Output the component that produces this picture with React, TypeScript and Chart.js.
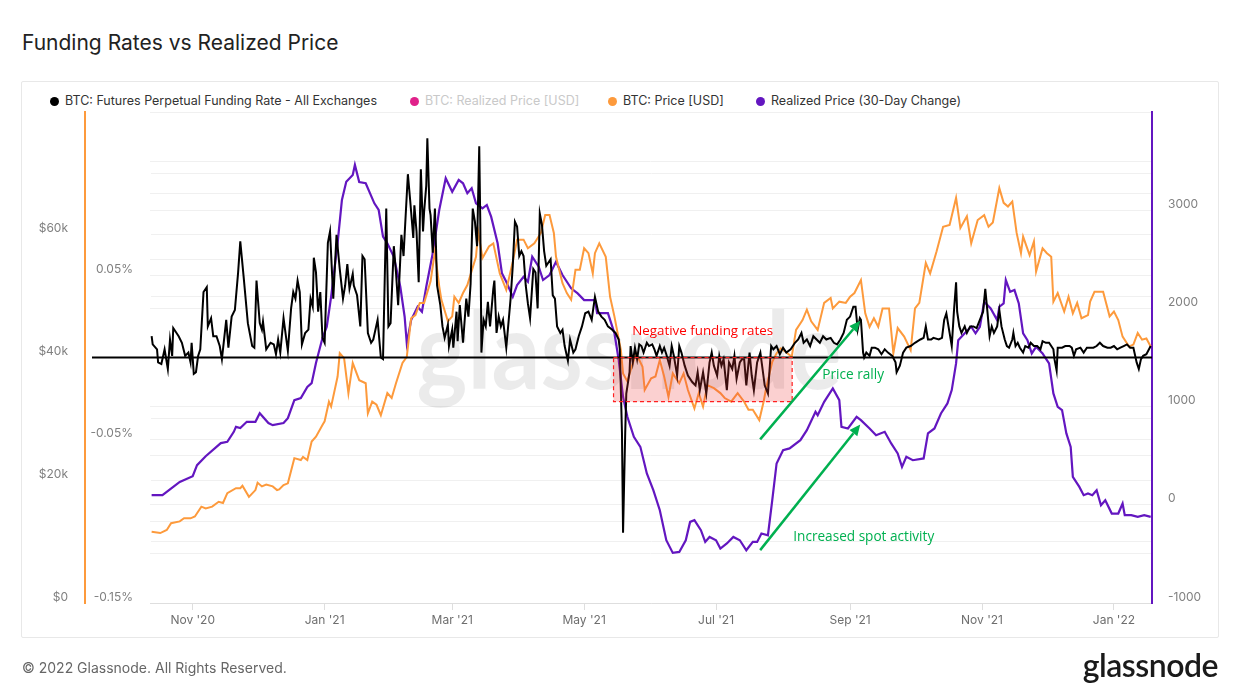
import React, { useEffect, useRef } from 'react';
import { Chart, registerables } from 'chart.js';

Chart.register(...registerables);

// x values are days counted from 2020-11-01 (day 0)
const monthTickDays = [0, 61, 120, 181, 242, 304, 365, 426];
const monthTickLabels = ["Nov '20", "Jan '21", "Mar '21", "May '21", "Jul '21", "Sep '21", "Nov '21", "Jan '22"];

// BTC: Futures Perpetual Funding Rate - All Exchanges  [day, rate %]
const fundingRate: [number, number][] = [
  [-19, 0.013], [-18.5, 0.008], [-16.5, 0.005], [-16, -0.003], [-14.5, -0.004], [-13, 0.005], [-11.5, -0.007], [-10.5, 0.011],
  [-9.5, 0.001], [-9, 0.018], [-6.5, 0.013], [-5, 0.009], [-3.5, 0.001], [-2, 0.003], [-1, -0.003], [-0.5, 0.009],
  [0.5, -0.010], [1.5, -0.009], [2.5, 0.001], [3.5, 0.005], [5, 0.040], [6.5, 0.043], [7, 0.019], [8.5, 0.024],
  [9.5, 0.013], [11, 0.013], [12.5, 0.007], [13.5, -0.001], [15.5, 0.023], [16.5, 0.006], [18, 0.025], [19.5, 0.029],
  [21, 0.052], [22, 0.071], [23.5, 0.050], [25.5, 0.021], [27.5, 0.007], [28.5, 0.006], [29.5, 0.047], [31, 0.021],
  [32, 0.017], [32.5, 0.022], [34, 0.005], [36, 0.009], [37.5, 0.008], [38.5, 0.002], [39.5, 0.011], [40.5, 0.003],
  [42, 0.024], [44, 0.004], [45.5, 0.030], [46.5, 0.040], [47.5, 0.036], [48.5, 0.047], [49.5, 0.040], [50.5, 0.008],
  [52, 0.015], [53.5, 0.017], [54.5, 0.036], [55.5, 0.031], [56, 0.061], [57, 0.052], [58, 0.028], [59, 0.040],
  [60, 0.012], [61, 0.009], [62.5, 0.070], [63.5, 0.077], [65, 0.036], [66.5, 0.075], [68, 0.054], [69.5, 0.036],
  [70.5, 0.044], [71.5, 0.057], [72.5, 0.042], [74, 0.051], [74.5, 0.044], [76, 0.038], [77.5, 0.019], [78.5, 0.062],
  [79.5, 0.060], [81, 0.015], [82.5, 0.009], [83.5, 0.011], [85.5, 0.023], [87, 0.000], [88, -0.001], [89.5, 0.091],
  [90.5, 0.019], [91.5, 0.021], [93, 0.068], [94, 0.052], [95, 0.032], [96.5, 0.075], [97.5, 0.062], [98, 0.075],
  [99.5, 0.112], [100.5, 0.097], [102, 0.073], [102.5, 0.093], [103.5, 0.077], [104.5, 0.046], [105.5, 0.115], [106.5, 0.077],
  [107, 0.089], [108, 0.105], [108.5, 0.134], [109.5, 0.091], [110, 0.087], [111, 0.064], [112, 0.091], [113, 0.044],
  [114.5, 0.032], [115.5, 0.019], [116.5, 0.012], [118, 0.020], [118.5, 0.007], [120, 0.017], [120.5, 0.006], [122, 0.028],
  [122.5, 0.010], [123.5, 0.032], [125, 0.009], [126.5, 0.036], [127.5, 0.025], [128.5, 0.045], [129.5, 0.091], [130.5, 0.083],
  [131.5, 0.068], [132.5, 0.129], [133, 0.081], [133.5, 0.003], [134.5, 0.023], [135.5, 0.019], [136.5, 0.034], [137.5, 0.019],
  [139, 0.042], [139.5, 0.047], [140.5, 0.015], [141.5, 0.025], [142.5, 0.019], [143.5, 0.023], [145, 0.006], [147, 0.036],
  [148, 0.056], [149, 0.083], [150, 0.080], [151, 0.062], [152, 0.065], [153, 0.062], [154, 0.044], [155, 0.033],
  [156, 0.024], [157.5, 0.054], [158.5, 0.052], [159.5, 0.030], [160.5, 0.088], [161.5, 0.081], [162.5, 0.065], [163.5, 0.056],
  [164.5, 0.058], [165.5, 0.060], [166.5, 0.038], [167.5, 0.036], [168.5, 0.019], [170, 0.015], [171, 0.017], [172, 0.007],
  [173.5, -0.002], [174.5, 0.011], [176, 0.003], [177, 0.005], [178.5, 0.013], [180, 0.019], [181.5, 0.027], [183, 0.028],
  [184.5, 0.023], [186, 0.037], [187.5, 0.028], [189, 0.025], [190.5, 0.023], [192, 0.019], [194, 0.017], [195.5, 0.015],
  [197, 0.011], [197.5, 0.005], [198.5, -0.046], [199, -0.107], [200, -0.046], [200.5, -0.022], [202, -0.009], [202.5, 0.007],
  [203.5, -0.003], [204.5, 0.006], [205.5, -0.001], [206.5, 0.008], [207.5, 0.007], [208.5, 0.003], [210, 0.009], [211, 0.007],
  [212.5, 0.008], [213.5, 0.005], [214.5, 0.001], [216, 0.007], [217, 0.003], [218, 0.006], [219, 0.002], [220.5, -0.005],
  [221.5, 0.007], [222.5, 0.001], [224, -0.011], [225, 0.007], [226, 0.003], [227.5, -0.005], [229, -0.011], [231, -0.015],
  [232.5, -0.017], [233.5, -0.009], [234.5, -0.020], [236, -0.009], [237.5, -0.022], [239, -0.003], [240, 0.003], [241, -0.005],
  [242.5, -0.011], [243.5, 0.001], [244.5, -0.005], [245.5, -0.001], [247, -0.020], [248, -0.003], [249.5, -0.007], [250.5, 0.001],
  [251.5, -0.013], [253, -0.003], [254, -0.001], [255, -0.001], [256, -0.017], [257.5, 0.003], [258.5, -0.011], [259.5, -0.020],
  [261, -0.003], [262.5, 0.003], [263.5, -0.007], [264.5, -0.017], [266, -0.022], [267.5, 0.007], [268.5, 0.005], [270, 0.007],
  [271.5, 0.002], [273, 0.006], [274.5, 0.003], [276.5, 0.005], [278.5, 0.009], [280, 0.011], [281.5, 0.015], [282.5, 0.009],
  [284, 0.011], [285.5, 0.007], [287, 0.013], [288.5, 0.011], [290, 0.009], [291.5, 0.013], [293, 0.011], [295, 0.012],
  [296.5, 0.009], [298, 0.008], [299.5, 0.011], [301, 0.015], [302.5, 0.023], [304, 0.025], [305.5, 0.031], [306.5, 0.031],
  [307.5, 0.017], [308.5, 0.024], [309, 0.023], [310, 0.003], [310.5, 0.000], [311.5, 0.003], [313, 0.001], [314, 0.006],
  [315.5, 0.006], [317, 0.005], [318.5, 0.002], [320, 0.005], [321.5, 0.003], [323.5, 0.001], [325, -0.003], [325.5, -0.009],
  [327, -0.005], [328.5, 0.003], [330, 0.006], [332, 0.007], [334, 0.009], [336.5, 0.011], [338, 0.012], [339, 0.019],
  [340, 0.011], [341.5, 0.011], [342.5, 0.012], [345, 0.011], [346.5, 0.012], [347.5, 0.023], [348.5, 0.027], [350, 0.015],
  [351, 0.007], [352, 0.028], [353, 0.046], [353.5, 0.028], [354.5, 0.019], [355.5, 0.015], [357, 0.019], [358, 0.015],
  [359.5, 0.019], [361, 0.019], [362.5, 0.018], [364, 0.023], [365.5, 0.028], [366.5, 0.042], [367.5, 0.028], [368.5, 0.013],
  [369.5, 0.019], [370.5, 0.015], [372, 0.019], [373, 0.029], [374, 0.019], [375.5, 0.011], [376.5, 0.007], [377.5, 0.006],
  [379, 0.011], [379.5, 0.015], [380.5, 0.007], [381.5, 0.009], [382.5, 0.006], [384, 0.003], [385, 0.007], [386.5, 0.006],
  [387.5, 0.009], [389, 0.007], [390.5, 0.007], [392, 0.005], [393, 0.010], [394.5, 0.009], [396, 0.009], [398, 0.005],
  [398.5, -0.001], [399.5, -0.008], [400, 0.006], [402, 0.006], [403.5, 0.007], [405.5, 0.007], [406.5, 0.006], [407.5, 0.001],
  [408.5, 0.005], [410.5, 0.006], [412, 0.003], [413.5, 0.006], [415, 0.006], [416.5, 0.006], [418, 0.007], [419.5, 0.009],
  [421, 0.007], [423, 0.006], [424.5, 0.006], [426, 0.007], [427.5, 0.005], [429, 0.006], [430.5, 0.007], [432, 0.008],
  [433.5, 0.006], [435, 0.006], [436.5, -0.003], [437.5, -0.007], [438.5, -0.001], [439.5, 0.001], [441, 0.002], [443, 0.007],
];

// BTC: Price [USD]  [day, price]
const btcPrice: [number, number][] = [
  [-19, 11600], [-15, 11400], [-12, 11900], [-10, 13000], [-6, 13300], [-4, 13800], [-1, 13800], [1, 14100],
  [4, 15700], [6, 15400], [9, 15700], [12, 16500], [14, 16300], [16, 17900], [20, 18700], [22, 18700],
  [23, 19100], [26, 17300], [29, 18400], [30, 19600], [32, 19000], [34, 19300], [37, 19000], [39, 18400],
  [40, 18500], [42, 19200], [44, 19500], [47, 23600], [50, 23300], [51, 23800], [53, 23300], [55, 26300],
  [57, 27100], [60, 29000], [61, 29600], [63, 32800], [64, 32000], [67, 36900], [68, 40700], [70, 39900],
  [72, 34200], [74, 39100], [77, 36300], [80, 35800], [81, 30900], [83, 32800], [85, 32300], [87, 30600],
  [90, 34200], [92, 33400], [94, 35800], [97, 39100], [99, 40100], [101, 46400], [103, 46900], [105, 48900],
  [107, 48900], [110, 52400], [112, 57300], [114, 51600], [115, 49400], [118, 45900], [120, 46700], [121, 49900],
  [123, 48900], [125, 50500], [127, 51800], [131, 56400], [132, 60500], [134, 56200], [137, 58100], [139, 58600],
  [142, 53700], [145, 51000], [148, 55600], [150, 59200], [153, 59200], [155, 57800], [158, 58600], [161, 60300],
  [163, 63200], [165, 63200], [167, 60300], [168, 56400], [171, 52100], [173, 50500], [175, 49400], [177, 54300],
  [179, 54300], [181, 57800], [183, 57000], [185, 53700], [186, 57000], [188, 58600], [191, 56400], [193, 49900],
  [195, 46700], [198, 41200], [199, 37400], [201, 36100], [203, 38500], [205, 40700], [208, 38500], [209, 34700],
  [212, 36600], [214, 36900], [216, 39600], [218, 36900], [220, 33600], [222, 37400], [225, 35800], [227, 37400],
  [229, 34700], [232, 31700], [234, 34200], [236, 32000], [238, 35500], [241, 35000], [244, 34200], [246, 33400],
  [249, 32800], [252, 34200], [255, 32800], [257, 31500], [259, 31500], [262, 29800], [264, 32800], [265, 34700],
  [268, 39300], [270, 40700], [272, 41500], [275, 40700], [277, 40100], [279, 44500], [282, 46100], [284, 47800],
  [286, 45900], [289, 44500], [292, 48900], [295, 49700], [296, 48000], [299, 49100], [302, 48900], [304, 49900],
  [306, 50500], [309, 52600], [311, 47200], [313, 45000], [315, 46400], [317, 45000], [319, 48000], [322, 48000],
  [324, 40700], [326, 44800], [329, 43400], [332, 41200], [334, 48000], [336, 48900], [339, 55400], [341, 53700],
  [344, 57300], [347, 61300], [350, 61600], [353, 66000], [355, 61100], [358, 63000], [360, 58600], [363, 62400],
  [366, 63200], [368, 61300], [370, 62000], [373, 67600], [375, 65200], [377, 64600], [379, 65400], [381, 60300],
  [383, 57000], [384, 59700], [387, 56700], [389, 58900], [390, 54000], [393, 57800], [395, 57000], [397, 56400],
  [398, 49100], [400, 50500], [403, 47500], [405, 49900], [407, 47200], [409, 48900], [411, 46400], [414, 46900],
  [415, 49100], [417, 50700], [421, 50700], [424, 46700], [426, 47500], [428, 46100], [430, 43400], [433, 41800],
  [435, 42100], [437, 44000], [439, 42900], [441, 43100], [443, 41800],
];

// Realized Price (30-Day Change)  [day, USD change]
const realizedPriceChange30d: [number, number][] = [
  [-19, 98], [-14, 98], [-9, 182], [-6, 233], [0, 291], [2, 404], [6, 495], [13, 628],
  [16, 641], [19, 743], [20, 794], [22, 781], [25, 845], [29, 845], [31, 933], [35, 832],
  [37, 811], [42, 832], [44, 882], [47, 1066], [50, 1086], [53, 1201], [55, 1239], [57, 1443],
  [60, 1698], [62, 1813], [64, 2118], [67, 2666], [69, 3104], [71, 3290], [74, 3359], [75, 3461],
  [77, 3287], [80, 3274], [84, 3070], [86, 3002], [88, 2730], [90, 2663], [93, 2526], [96, 2220],
  [98, 1915], [99, 1644], [101, 1881], [104, 2017], [106, 1966], [108, 2220], [111, 2561], [114, 3002],
  [117, 3325], [120, 3188], [123, 3308], [125, 3274], [127, 3172], [129, 3223], [131, 3070], [134, 3019],
  [136, 3053], [138, 2934], [141, 2663], [143, 2357], [145, 2271], [148, 2118], [150, 2238], [153, 2322],
  [155, 2271], [157, 2526], [160, 2424], [162, 2289], [165, 2340], [168, 2475], [171, 2340], [175, 2204],
  [178, 2153], [181, 2085], [184, 2085], [186, 2085], [187, 1952], [192, 1952], [195, 1749], [197, 1473],
  [199, 1100], [201, 896], [204, 692], [207, 590], [210, 319], [213, 149], [216, -55], [219, -361],
  [222, -490], [225, -480], [228, -361], [230, -174], [232, -157], [235, -259], [237, -378], [239, -327],
  [242, -361], [244, -445], [247, -394], [250, -327], [253, -361], [256, -463], [259, -378], [261, -378],
  [263, -292], [266, -310], [268, 47], [270, 421], [273, 556], [276, 574], [281, 658], [284, 760],
  [288, 947], [289, 913], [292, 1049], [296, 1185], [299, 1066], [300, 794], [303, 777], [307, 896],
  [309, 862], [313, 777], [316, 709], [320, 743], [323, 625], [326, 523], [328, 386], [330, 488],
  [333, 454], [338, 472], [340, 727], [343, 777], [346, 930], [349, 1032], [351, 1168], [353, 1440],
  [354, 1677], [357, 1746], [360, 1813], [362, 1746], [364, 1813], [366, 2068], [369, 2000], [372, 1881],
  [373, 2017], [375, 2051], [376, 2289], [378, 2169], [380, 2187], [382, 2051], [384, 1746], [386, 1677],
  [388, 1542], [390, 1609], [393, 1542], [394, 1507], [396, 1440], [398, 1134], [400, 998], [402, 964],
  [404, 727], [406, 590], [407, 284], [410, 182], [412, 98], [414, 115], [416, 98], [418, 149],
  [420, -4], [422, 47], [425, -89], [428, -89], [430, 13], [431, -106], [434, -106], [437, -123],
  [440, -106], [443, -123],
];

const legendItems = [
  { label: 'BTC: Futures Perpetual Funding Rate - All Exchanges', dot: '#000000', text: '#333333' },
  { label: 'BTC: Realized Price [USD]', dot: '#e0218a', text: '#c9c9c9' },
  { label: 'BTC: Price [USD]', dot: '#fd9a3c', text: '#333333' },
  { label: 'Realized Price (30-Day Change)', dot: '#6316c0', text: '#333333' },
];
const legendLeft = [50, 410, 608, 756];

const ORANGE = '#fd9a3c';
const PURPLE = '#6316c0';
const GRID = '#f0f0f0';
const TICK = '#808080';

// annotation anchors (data coordinates: day, funding rate %)
const negBox = { d0: 194.6, d1: 277.2, r0: -0.027, r1: 0 };
const notes = [
  { text: 'Negative funding rates', day: 235.8, rate: 0.016, width: 141, color: '#ff0000' },
  { text: 'Price rally', day: 305.4, rate: -0.011, width: 62, color: '#00b050' },
  { text: 'Increased spot activity', day: 310.3, rate: -0.110, width: 141, color: '#00b050' },
];
const arrows = [
  { d0: 262.4, r0: -0.050, d1: 308.7, r1: 0.0224 },
  { d0: 262.4, r0: -0.1177, d1: 308.7, r1: -0.041 },
];

function drawArrow(ctx: CanvasRenderingContext2D, x1: number, y1: number, x2: number, y2: number, color: string) {
  const ang = Math.atan2(y2 - y1, x2 - x1);
  const head = 11, half = 5;
  const bx = x2 - head * Math.cos(ang), by = y2 - head * Math.sin(ang);
  ctx.strokeStyle = color;
  ctx.lineWidth = 2.5;
  ctx.beginPath();
  ctx.moveTo(x1, y1);
  ctx.lineTo(bx, by);
  ctx.stroke();
  ctx.fillStyle = color;
  ctx.beginPath();
  ctx.moveTo(x2, y2);
  ctx.lineTo(bx + half * Math.sin(ang), by - half * Math.cos(ang));
  ctx.lineTo(bx - half * Math.sin(ang), by + half * Math.cos(ang));
  ctx.closePath();
  ctx.fill();
}

function fitText(ctx: CanvasRenderingContext2D, text: string, cx: number, cy: number, width: number, color: string) {
  const fam = '"Open Sans", "Noto Sans", sans-serif';
  ctx.font = `100px ${fam}`;
  const w = ctx.measureText(text).width;
  ctx.font = `${(100 * width) / w}px ${fam}`;
  ctx.fillStyle = color;
  ctx.textAlign = 'center';
  ctx.textBaseline = 'middle';
  ctx.fillText(text, cx, cy);
}

const overlayPlugin = {
  id: 'overlay',
  beforeDatasetsDraw(chart: any) {
    const { ctx, chartArea } = chart;
    ctx.save();
    ctx.font = 'bold 108px Lato, sans-serif';
    const w = ctx.measureText('glassnode').width;
    const cx = chartArea.left + 0.478 * (chartArea.right - chartArea.left);
    const base = chartArea.top + 0.565 * (chartArea.bottom - chartArea.top);
    ctx.translate(cx, base);
    ctx.scale(425 / w, 1);
    ctx.fillStyle = 'rgba(0,0,0,0.08)';
    ctx.textAlign = 'center';
    ctx.textBaseline = 'alphabetic';
    ctx.fillText('glassnode', 0, 0);
    ctx.restore();
  },
  afterDatasetsDraw(chart: any) {
    const { ctx, chartArea } = chart;
    const x = chart.scales.x;
    const yF = chart.scales.yFunding;
    const yP = chart.scales.yPrice;
    ctx.save();
    // zero line
    const y0 = yF.getPixelForValue(0);
    ctx.strokeStyle = '#000';
    ctx.lineWidth = 2;
    ctx.beginPath();
    ctx.moveTo(yP.right + 7, y0);
    ctx.lineTo(chartArea.right, y0);
    ctx.stroke();
    // negative funding box
    const bx0 = x.getPixelForValue(negBox.d0), bx1 = x.getPixelForValue(negBox.d1);
    const by0 = yF.getPixelForValue(negBox.r1), by1 = yF.getPixelForValue(negBox.r0);
    ctx.fillStyle = 'rgba(240, 60, 60, 0.24)';
    ctx.fillRect(bx0, by0, bx1 - bx0, by1 - by0);
    ctx.setLineDash([4, 3]);
    ctx.strokeStyle = '#ff2020';
    ctx.lineWidth = 1.2;
    ctx.strokeRect(bx0, by0, bx1 - bx0, by1 - by0);
    ctx.setLineDash([]);
    // arrows
    for (const a of arrows) {
      drawArrow(ctx, x.getPixelForValue(a.d0), yF.getPixelForValue(a.r0), x.getPixelForValue(a.d1), yF.getPixelForValue(a.r1), '#00b050');
    }
    // notes
    for (const n of notes) {
      fitText(ctx, n.text, x.getPixelForValue(n.day), yF.getPixelForValue(n.rate), n.width, n.color);
    }
    ctx.restore();
  },
};

export default function App() {
  const ref = useRef<HTMLCanvasElement>(null);

  useEffect(() => {
    if (!ref.current) return;
    Chart.defaults.font.family = 'Inter, sans-serif';
    const tickFont = { size: 12, family: 'Inter, sans-serif' };
    const chart = new Chart(ref.current, {
      type: 'line',
      data: {
        datasets: [
          {
            label: legendItems[0].label,
            data: fundingRate.map(([d, v]) => ({ x: d, y: v })),
            yAxisID: 'yFunding',
            borderColor: '#000000',
            borderWidth: 2,
            pointRadius: 0,
            tension: 0,
            order: 0,
          },
          {
            label: legendItems[2].label,
            data: btcPrice.map(([d, v]) => ({ x: d, y: v })),
            yAxisID: 'yPrice',
            borderColor: ORANGE,
            borderWidth: 2,
            pointRadius: 0,
            tension: 0,
            order: 1,
          },
          {
            label: legendItems[3].label,
            data: realizedPriceChange30d.map(([d, v]) => ({ x: d, y: v })),
            yAxisID: 'yRp',
            borderColor: PURPLE,
            borderWidth: 2.2,
            pointRadius: 0,
            tension: 0,
            order: 2,
          },
        ],
      },
      options: {
        animation: false,
        responsive: false,
        events: [],
        layout: { padding: { left: 22, right: 24, top: 112, bottom: 63 } },
        plugins: { legend: { display: false }, tooltip: { enabled: false }, title: { display: false } },
        scales: {
          x: {
            type: 'linear',
            position: 'bottom',
            min: -19.75,
            max: 443.6,
            afterBuildTicks: (s: any) => {
              s.ticks = monthTickDays.map((v) => ({ value: v }));
            },
            afterFit: (s: any) => {
              s.height = 30;
            },
            ticks: {
              autoSkip: false,
              maxRotation: 0,
              padding: 3,
              color: '#6e6e6e',
              font: tickFont,
              callback: (v: any) => {
                const i = monthTickDays.indexOf(Number(v));
                return i >= 0 ? monthTickLabels[i] : '';
              },
            },
            grid: { drawOnChartArea: false, drawTicks: true, tickLength: 7, color: '#dedede' },
            border: { color: '#dedede' },
          },
          yPrice: {
            type: 'linear',
            position: 'left',
            weight: 2,
            min: 0,
            max: 80000,
            afterFit: (s: any) => {
              s.width = 63;
            },
            ticks: {
              stepSize: 10000,
              padding: 17,
              labelOffset: -6,
              color: TICK,
              font: tickFont,
              callback: (v: any) => {
                const n = Number(v);
                if (n % 20000 !== 0 || n >= 80000) return '';
                return n === 0 ? '$0' : `$${n / 1000}k`;
              },
            },
            grid: { color: GRID, drawTicks: false },
            border: { display: true, color: ORANGE, width: 2 },
          },
          yFunding: {
            type: 'linear',
            position: 'left',
            weight: 1,
            min: -0.15,
            max: 0.15,
            afterFit: (s: any) => {
              s.width = 65;
            },
            ticks: {
              stepSize: 0.05,
              padding: 17,
              labelOffset: -6,
              color: TICK,
              font: tickFont,
              callback: (v: any) => {
                const n = Math.round(Number(v) * 100);
                if (n === -15 || n === -5 || n === 5) return `${(n / 100).toFixed(2)}%`;
                return '';
              },
            },
            grid: { color: GRID, drawTicks: false },
            border: { display: false },
          },
          yRp: {
            type: 'linear',
            position: 'right',
            min: -1000,
            max: 4000,
            afterFit: (s: any) => {
              s.width = 66;
            },
            ticks: {
              stepSize: 500,
              padding: 16,
              labelOffset: -6,
              color: TICK,
              font: tickFont,
              callback: (v: any) => {
                const n = Math.round(Number(v));
                if (n % 1000 !== 0 || n >= 4000) return '';
                return String(n);
              },
            },
            grid: { color: GRID, drawTicks: false },
            border: { display: true, color: PURPLE, width: 2 },
          },
        },
      } as any,
      plugins: [overlayPlugin],
    });
    return () => chart.destroy();
  }, []);

  return (
    <div
      style={{
        position: 'absolute',
        left: 0,
        top: 0,
        width: 1242,
        height: 696,
        background: '#ffffff',
        overflow: 'hidden',
        fontFamily: 'Inter, sans-serif',
      }}
    >
      <div style={{ position: 'absolute', left: 22, top: 29, fontSize: 21, lineHeight: '28px', color: '#222222' }}>
        Funding Rates vs Realized Price
      </div>
      <div
        style={{
          position: 'absolute',
          left: 21,
          top: 81,
          width: 1198,
          height: 557,
          border: '1px solid #e8e8e8',
          boxSizing: 'border-box',
          borderRadius: 2,
        }}
      />
      {legendItems.map((it, i) => (
        <div
          key={it.label}
          style={{
            position: 'absolute',
            left: legendLeft[i],
            top: 93,
            height: 16,
            display: 'flex',
            alignItems: 'center',
            fontSize: 12.5,
            lineHeight: '16px',
            color: it.text,
            whiteSpace: 'nowrap',
          }}
        >
          <span
            style={{ display: 'inline-block', width: 9, height: 9, borderRadius: '50%', background: it.dot, marginRight: 6 }}
          />
          {it.label}
        </div>
      ))}
      <canvas
        ref={ref}
        width={1242}
        height={696}
        style={{ position: 'absolute', left: 0, top: 0, width: 1242, height: 696 }}
      />
      <div style={{ position: 'absolute', left: 22, top: 659, fontSize: 14, lineHeight: '18px', color: '#666666' }}>
        © 2022 Glassnode. All Rights Reserved.
      </div>
      <div
        style={{
          position: 'absolute',
          right: 24,
          top: 646,
          fontSize: 32,
          lineHeight: '38px',
          fontWeight: 600,
          color: '#1a1a1a',
          letterSpacing: -0.5,
          fontFamily: 'Lato, Inter, sans-serif',
        }}
      >
        glassnode
      </div>
    </div>
  );
}
